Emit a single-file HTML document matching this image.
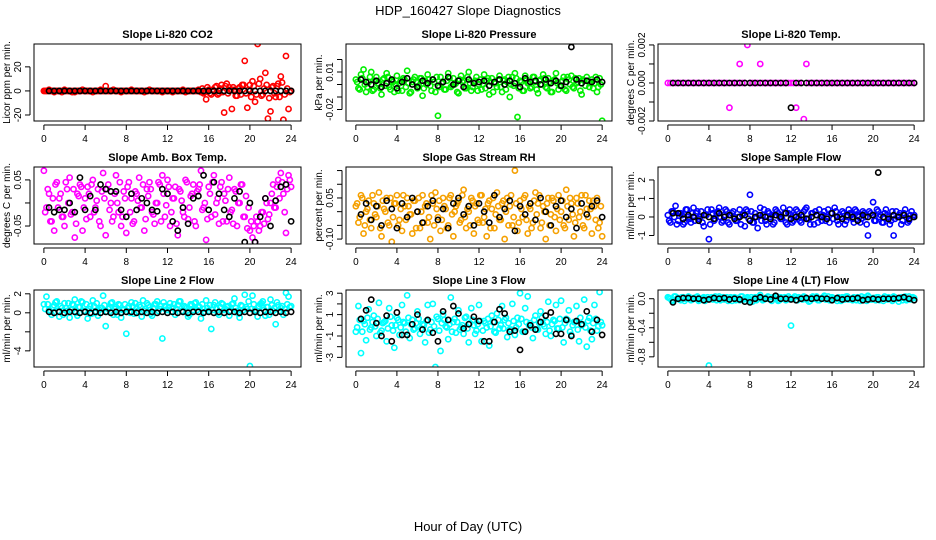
<!DOCTYPE html>
<html><head><meta charset="utf-8"><style>
html,body{margin:0;padding:0;background:#fff}
svg{display:block;font-family:"Liberation Sans",sans-serif}
</style></head><body>
<svg id="chart" width="936" height="540" viewBox="0 0 936 540">
<text x="468" y="15" text-anchor="middle" font-size="13">HDP_160427  Slope Diagnostics</text>
<text x="468" y="531" text-anchor="middle" font-size="13">Hour of Day (UTC)</text>
</svg>
<script>
const hoursFine=[0,0.25,0.5,0.75,1,1.25,1.5,1.75,2,2.25,2.5,2.75,3,3.25,3.5,3.75,4,4.25,4.5,4.75,5,5.25,5.5,5.75,6,6.25,6.5,6.75,7,7.25,7.5,7.75,8,8.25,8.5,8.75,9,9.25,9.5,9.75,10,10.25,10.5,10.75,11,11.25,11.5,11.75,12,12.25,12.5,12.75,13,13.25,13.5,13.75,14,14.25,14.5,14.75,15,15.25,15.5,15.75,16,16.25,16.5,16.75,17,17.25,17.5,17.75,18,18.25,18.5,18.75,19,19.25,19.5,19.75,20,20.25,20.5,20.75,21,21.25,21.5,21.75,22,22.25,22.5,22.75,23,23.25,23.5,23.75,24];
const hoursOff=[0.125,0.375,0.625,0.875,1.125,1.375,1.625,1.875,2.125,2.375,2.625,2.875,3.125,3.375,3.625,3.875,4.125,4.375,4.625,4.875,5.125,5.375,5.625,5.875,6.125,6.375,6.625,6.875,7.125,7.375,7.625,7.875,8.125,8.375,8.625,8.875,9.125,9.375,9.625,9.875,10.125,10.375,10.625,10.875,11.125,11.375,11.625,11.875,12.125,12.375,12.625,12.875,13.125,13.375,13.625,13.875,14.125,14.375,14.625,14.875,15.125,15.375,15.625,15.875,16.125,16.375,16.625,16.875,17.125,17.375,17.625,17.875,18.125,18.375,18.625,18.875,19.125,19.375,19.625,19.875,20.125,20.375,20.625,20.875,21.125,21.375,21.625,21.875,22.125,22.375,22.625,22.875,23.125,23.375,23.625,23.875];
const hoursHalf=[0.5,1,1.5,2,2.5,3,3.5,4,4.5,5,5.5,6,6.5,7,7.5,8,8.5,9,9.5,10,10.5,11,11.5,12,12.5,13,13.5,14,14.5,15,15.5,16,16.5,17,17.5,18,18.5,19,19.5,20,20.5,21,21.5,22,22.5,23,23.5,24];
const xTicks=[0,4,8,12,16,20,24];

const co2Col=[0,0,1,0,-1,0,0,-1,1,0,0,-1,-1,0,0,1,0,0,0,-1,0,0,1,0,4,0,0,1,0,0,-1,0,0,0,1,0,0,0,0,-1,0,1,0,0,0,0,-1,0,0,0,-1,0,0,0,1,-1,0,0,0,0,1,-1,-2,-7,1,-3,0,4,-2,5,-18,6,3,-15,1,-4,3,5,25,-14,5,8,-9,39,10,-3,15,-23,-17,4,-5,6,12,-24,29,-15,0,0];
const co2Col2=[0,0,0,0,0,0,0,0,0,0,0,0,0,0,0,0,0,0,0,0,0,0,0,0,0,0,0,0,0,0,0,0,0,0,0,0,0,0,0,0,0,0,0,0,0,0,0,0,0,0,0,0,0,0,0,0,0,0,0,0,0,2,-1,3,-2,1,3,-3,2,-1,4,-2,1,3,-4,2,-3,5,-2,1,-5,4,-3,6,-4,2,5,-6,3,-2,4,-5,7,-3,2,-1];
const co2Blk=[0,0,0,0,0,0,0,0,0,0,0,0,0,0,0,0,0,0,0,0,0,0,0,0,0,0,0,0,0,0,0,0,0,0,0,0,0,0,0,0,0,0,0,0,0,0,0,0];
const presCol=[0.004,-0.003,0.008,0.012,-0.006,0.002,0.010,-0.004,0.006,0.000,-0.008,0.005,0.009,-0.002,0.003,-0.006,0.007,0.001,-0.005,0.004,0.011,-0.007,0.002,0.006,-0.003,0.005,-0.009,0.003,0.008,-0.001,0.004,-0.006,-0.025,0.006,0.002,-0.004,0.009,-0.002,0.005,0.001,-0.007,0.007,0.003,-0.003,0.010,-0.005,0.002,0.006,0.000,-0.004,0.008,0.003,-0.008,0.005,0.001,-0.002,0.007,-0.006,0.004,0.002,-0.010,0.006,0.009,-0.026,0.003,-0.005,0.007,0.001,-0.003,0.006,0.002,-0.007,0.004,0.008,-0.002,0.005,-0.006,0.003,0.009,-0.004,0.002,0.006,-0.005,0.004,0.007,-0.003,0.001,0.005,-0.008,0.003,0.006,-0.002,0.004,0.001,-0.006,0.005,-0.029];
const presCol2=[0.002,-0.004,0.005,0.000,-0.002,0.006,-0.005,0.003,0.001,-0.003,0.004,-0.001,0.006,-0.004,0.002,0.000,-0.005,0.003,0.005,-0.002,0.001,-0.006,0.004,0.002,-0.001,0.005,-0.003,0.000,0.004,-0.005,0.002,0.006,-0.002,0.001,-0.004,0.003,0.005,-0.001,0.000,-0.006,0.004,0.002,-0.003,0.006,0.001,-0.002,0.003,-0.005,0.004,0.000,-0.003,0.005,0.002,-0.006,0.001,0.004,-0.002,0.003,-0.004,0.006,0.000,-0.001,0.005,-0.003,0.002,-0.005,0.004,0.001,-0.002,0.006,-0.004,0.003,0.000,0.005,-0.003,0.002,-0.006,0.004,0.001,-0.001,0.003,-0.004,0.006,0.000,-0.002,0.005,0.002,-0.005,0.004,-0.001,0.003,0.001,-0.003,0.006,-0.002,0.000];
const presBlk=[0.004,0.002,0.000,0.003,-0.002,0.001,0.004,-0.003,0.002,0.005,0.000,-0.002,0.003,0.001,0.004,-0.001,0.002,0.006,0.000,0.003,-0.002,0.004,0.001,0.002,0.003,-0.001,0.002,0.004,0.000,0.003,0.001,-0.002,0.005,0.002,0.003,0.000,0.004,0.001,0.003,-0.001,0.002,0.030,0.004,0.001,0.003,0.002,0.004,0.002];
const tempCol=[0,0,0,0,0,0,0,0,0,0,0,0,0,0,0,0,0,0,0,0,0,0,0,0,-0.0013,0,0,0,0.001,0,0,0.002,0,0,0,0,0.001,0,0,0,0,0,0,0,0,0,0,0,0,0,-0.0013,0,0,-0.0019,0.001,0,0,0,0,0,0,0,0,0,0,0,0,0,0,0,0,0,0,0,0,0,0,0,0,0,0,0,0,0,0,0,0,0,0,0,0,0,0,0,0,0,0];
const tempBlk=[0,0,0,0,0,0,0,0,0,0,0,0,0,0,0,0,0,0,0,0,0,0,0,-0.0013,0,0,0,0,0,0,0,0,0,0,0,0,0,0,0,0,0,0,0,0,0,0,0,0];
const ambCol=[0.07,-0.01,0.02,-0.04,-0.06,0.045,0.01,-0.03,-0.05,0.03,0.055,-0.02,-0.075,0.02,0.04,-0.06,0.01,0.035,-0.03,0.05,-0.01,0.03,-0.05,0.065,-0.07,0.04,0.00,-0.03,0.06,-0.02,-0.05,0.025,-0.065,0.045,0.01,-0.04,0.02,0.055,-0.01,-0.06,0.03,0.045,-0.02,-0.045,0.00,0.04,0.06,-0.03,0.05,-0.05,0.01,0.035,-0.07,0.025,-0.02,0.05,-0.035,0.015,0.04,-0.05,0.03,0.07,-0.01,-0.08,0.035,-0.03,0.06,0.00,-0.045,0.045,0.02,-0.04,0.055,-0.015,0.03,-0.05,0.00,0.04,-0.03,-0.055,-0.06,-0.075,-0.085,-0.04,-0.05,-0.02,0.01,-0.035,0.00,0.04,-0.01,0.05,0.065,0.02,-0.065,0.06,0.035];
const ambCol2=[-0.02,0.03,-0.04,0.01,0.04,-0.01,0.02,-0.03,0.045,0.00,-0.025,0.03,-0.045,0.015,0.035,-0.01,-0.035,0.02,0.04,-0.02,0.005,-0.04,0.025,0.01,0.03,-0.015,-0.04,0.02,0.00,0.045,-0.03,0.01,0.035,-0.02,-0.045,0.025,0.005,-0.01,0.04,-0.035,0.015,0.03,-0.025,0.00,0.045,-0.04,0.02,-0.005,0.035,-0.02,0.01,-0.045,0.03,0.005,-0.03,0.045,-0.01,0.02,-0.04,0.025,0.04,-0.015,0.00,-0.035,0.02,0.045,-0.025,0.01,0.035,-0.04,0.005,0.03,-0.02,-0.045,0.025,0.00,0.04,-0.03,0.015,-0.01,-0.04,-0.05,-0.03,-0.06,-0.02,-0.045,0.00,-0.025,0.02,-0.01,0.035,0.01,0.045,-0.02,0.03,0.05];
const ambBlk=[-0.01,-0.02,-0.015,-0.015,0.0,-0.02,0.055,-0.015,0.015,-0.015,0.04,0.03,0.025,0.025,-0.015,-0.03,0.02,-0.015,0.01,0.0,-0.015,-0.018,0.03,0.02,-0.04,-0.06,-0.01,-0.045,0.01,0.015,0.06,-0.015,0.045,0.02,-0.015,-0.03,0.01,0.025,-0.085,0.0,-0.085,-0.03,0.01,-0.05,0.005,0.035,0.04,-0.04];
const rhCol=[0.02,-0.04,0.06,-0.08,0.00,0.04,-0.06,0.03,-0.02,0.07,-0.09,0.01,0.05,-0.05,-0.11,0.03,0.06,-0.03,-0.07,0.02,0.05,-0.01,-0.08,0.04,0.00,-0.06,0.06,0.02,-0.04,-0.10,0.03,0.07,-0.02,-0.07,0.05,0.01,-0.05,0.06,-0.09,0.02,0.04,-0.03,0.08,-0.06,0.00,0.05,-0.08,0.03,-0.04,0.06,-0.02,-0.09,0.04,0.01,-0.06,0.07,-0.03,0.03,-0.10,0.05,0.02,-0.05,0.15,-0.07,0.04,-0.02,0.06,-0.08,0.01,-0.04,0.07,0.03,-0.06,0.02,-0.10,0.05,-0.01,0.04,-0.07,0.06,0.00,-0.05,0.08,-0.03,0.03,-0.09,0.05,-0.02,0.06,-0.06,0.01,0.04,-0.08,0.02,0.05,-0.04,-0.09];
const rhCol2=[0.03,-0.02,0.05,-0.05,0.01,-0.03,0.06,-0.01,0.02,-0.06,0.04,0.00,-0.04,0.05,-0.02,0.03,-0.05,0.01,0.06,-0.03,0.02,-0.01,0.04,-0.06,0.05,0.00,-0.04,0.03,-0.02,0.06,-0.05,0.01,0.04,-0.03,0.02,-0.06,0.05,-0.01,0.00,0.03,-0.04,0.06,-0.02,0.01,-0.05,0.04,0.02,-0.03,0.06,-0.04,0.01,0.03,-0.06,0.05,-0.01,0.02,-0.03,0.04,0.00,-0.05,0.06,-0.02,0.03,-0.04,0.01,0.05,-0.03,0.02,-0.06,0.04,-0.01,0.06,-0.04,0.00,0.03,-0.05,0.05,-0.02,0.01,-0.03,0.04,-0.06,0.02,0.05,-0.01,-0.04,0.03,0.00,-0.05,0.06,-0.02,0.01,0.04,-0.03,-0.06,0.02];
const rhBlk=[-0.01,0.03,-0.03,0.02,-0.05,0.04,0.01,-0.06,0.03,-0.02,0.05,0.00,-0.04,0.02,0.04,-0.03,0.01,-0.06,0.03,0.05,-0.01,0.02,-0.05,0.03,0.00,-0.04,0.06,-0.02,0.01,0.04,-0.07,0.02,-0.01,0.03,-0.03,0.05,0.00,-0.05,0.02,0.04,-0.02,0.01,-0.06,0.03,-0.01,0.02,0.04,-0.02];
const flowCol=[0.1,-0.3,0.3,0.6,-0.2,0.2,-0.4,0.4,0.0,-0.3,0.5,0.2,-0.1,0.3,-0.5,0.1,-1.2,0.4,-0.2,0.2,0.5,-0.3,0.1,0.3,-0.4,0.2,0.0,-0.2,0.4,0.1,-0.5,0.3,1.2,-0.3,0.2,-0.6,0.5,0.1,-0.2,0.3,0.0,-0.4,0.4,0.2,-0.1,0.5,-0.3,0.2,0.1,-0.2,0.4,0.0,-0.3,0.3,0.5,-0.1,0.2,-0.4,0.1,0.4,-0.2,0.3,0.0,-0.3,0.2,0.5,-0.2,0.1,0.3,-0.4,0.0,0.2,-0.1,0.4,0.1,-0.3,0.3,0.0,-1.0,0.2,0.8,-0.2,0.3,0.1,-0.3,0.4,0.0,-0.2,-1.0,0.3,0.1,-0.4,0.2,0.0,-0.2,0.3,0.1];
const flowCol2=[-0.2,0.3,0.0,-0.4,0.2,0.1,-0.3,0.4,-0.1,0.2,-0.2,0.3,0.0,-0.3,0.1,0.4,-0.4,0.2,-0.1,0.3,0.0,-0.2,0.4,-0.3,0.1,0.3,-0.2,0.0,-0.4,0.2,0.4,-0.1,0.3,-0.3,0.0,0.1,-0.2,0.4,-0.4,0.2,0.1,-0.3,0.3,0.0,-0.1,0.2,-0.4,0.4,-0.3,0.1,0.3,-0.2,0.0,0.4,-0.1,-0.4,0.2,0.3,-0.3,0.0,0.1,-0.2,0.4,0.2,-0.1,0.3,-0.4,0.0,0.2,-0.2,0.4,0.1,-0.3,0.3,0.0,-0.1,0.2,-0.4,0.3,0.1,-0.2,0.4,0.0,-0.3,0.2,0.1,-0.4,0.3,-0.1,0.0,0.2,-0.2,0.4,-0.3,0.1,0.0];
const flowBlk=[0.2,0.2,-0.1,0.1,0.0,-0.2,0.1,0.0,-0.1,0.2,0.0,0.1,-0.1,0.0,0.1,-0.2,0.0,0.1,0.0,-0.1,0.1,0.0,0.2,-0.1,0.0,0.1,-0.1,0.0,0.1,0.0,-0.1,0.2,0.0,-0.1,0.1,0.0,-0.2,0.1,0.0,0.1,2.4,0.0,-0.1,0.1,0.0,0.1,-0.1,0.0];
const l2Col=[0.9,1.7,0.3,-0.2,0.8,1.2,-0.4,0.5,1.0,0.2,-0.5,0.9,1.4,-0.3,0.6,1.1,0.2,-0.6,0.7,1.3,0.0,-0.3,0.5,1.8,-1.4,0.4,1.0,-0.2,0.6,0.9,-0.5,0.3,-2.2,0.7,1.1,-0.1,0.5,0.8,-0.4,0.2,1.0,0.6,-0.3,0.9,1.2,0.4,-2.7,0.7,0.3,1.0,0.5,-0.2,0.8,1.2,0.1,0.6,-0.4,0.9,0.3,1.1,0.7,-0.6,0.4,1.3,0.2,-1.7,0.8,0.5,-0.2,1.0,0.3,0.6,-0.3,0.9,1.5,0.2,-0.5,0.7,1.9,0.4,-5.6,1.8,0.3,-0.4,0.9,1.2,-0.3,0.6,1.4,0.2,-1.2,0.8,0.5,-0.2,2.1,1.7,0.7];
const l2Col2=[0.4,0.9,0.1,0.6,1.1,0.2,0.7,-0.2,0.5,1.0,0.3,0.8,0.0,0.6,1.2,0.2,0.9,0.4,-0.1,0.7,1.0,0.3,0.5,0.8,0.1,0.6,1.1,0.4,-0.2,0.8,0.3,0.9,0.5,0.0,0.7,1.0,0.2,0.6,1.3,0.4,0.8,-0.1,0.5,0.9,0.2,0.7,1.1,0.3,0.6,0.1,0.9,0.4,1.2,0.2,0.7,0.5,-0.2,0.8,1.0,0.3,0.6,0.9,0.1,0.5,0.8,0.3,1.1,0.0,0.6,0.9,0.4,0.7,0.2,1.0,0.5,-0.1,0.8,0.3,0.6,1.2,0.4,0.9,0.1,0.7,1.0,0.3,0.6,-0.2,0.8,0.5,1.1,0.2,0.7,0.4,0.9,0.6];
const l2Blk=[0.1,0.0,0.1,0.0,0.1,0.1,0.0,0.1,0.0,0.1,0.0,0.1,0.0,0.1,0.0,0.1,0.1,0.0,0.1,0.0,0.1,0.0,0.1,0.0,0.1,0.0,0.1,0.0,0.1,0.1,0.0,0.1,0.0,0.1,0.0,0.1,0.1,0.0,0.1,0.0,0.1,0.0,0.1,0.1,0.0,0.1,0.0,0.1];
const l3Col=[-0.6,1.8,-2.6,0.4,-1.4,1.5,-0.2,0.9,-1.0,2.1,-0.5,0.3,-1.5,1.6,0.0,-2.1,0.7,-0.9,1.9,0.2,2.8,-1.2,0.5,-0.3,1.3,-0.8,0.1,-1.6,1.9,-0.4,2.0,-3.9,0.6,-2.4,1.0,-0.1,-1.3,2.6,0.3,-0.7,1.4,-0.2,-0.8,0.8,-1.6,1.6,0.0,-0.5,1.9,-1.5,0.4,-0.2,-1.9,0.9,-0.6,1.1,-0.3,1.8,0.5,-1.1,-0.4,2.0,-0.9,0.7,3.0,-0.6,1.6,2.7,0.2,-1.2,0.9,-0.4,1.3,0.1,-0.8,2.2,-1.0,0.5,1.9,-0.3,2.3,-1.6,0.6,1.4,-0.9,0.3,1.8,-1.5,0.0,2.4,-2.0,0.7,-1.3,1.9,-0.5,3.1,0.0];
const l3Col2=[-0.2,0.5,-0.6,0.1,0.7,-0.4,0.3,-0.1,0.6,-0.7,0.2,0.4,-0.3,0.8,-0.5,0.0,0.5,-0.2,0.3,-0.6,0.7,0.1,-0.4,0.2,0.6,-0.3,0.0,0.4,-0.7,0.3,-0.1,0.8,-0.5,0.2,0.5,-0.2,0.1,-0.6,0.6,0.3,-0.4,0.0,0.7,-0.3,0.2,0.5,-0.8,0.1,0.4,-0.5,0.2,0.6,-0.1,0.3,-0.7,0.5,0.0,-0.3,0.7,0.2,-0.4,0.4,-0.2,0.1,0.6,-0.6,0.3,0.0,-0.2,0.5,-0.4,0.2,0.7,-0.1,0.3,-0.5,0.1,0.4,-0.3,0.6,-0.2,0.2,0.5,-0.6,0.0,0.3,-0.4,0.7,0.1,-0.2,0.4,-0.5,0.2,0.6,-0.1,0.3];
const l3Blk=[0.6,1.4,2.4,0.2,-1.0,0.9,-1.5,1.2,-0.9,-0.9,0.1,1.0,-0.4,0.5,-0.7,-1.5,1.3,0.5,1.8,1.1,-0.3,0.1,0.8,0.4,-1.5,-1.5,0.3,1.5,1.1,-0.6,-0.5,-2.3,-0.6,0.0,-0.4,0.3,0.9,1.2,-0.8,-0.8,0.5,-1.0,0.4,0.1,1.3,-0.6,0.5,-0.9];
const l4Col=[0.02,0.0,-0.03,0.03,0.01,-0.02,0.02,0.0,0.03,-0.02,0.01,0.02,-0.03,0.0,0.02,-0.01,-0.92,0.02,0.0,-0.02,0.03,0.01,-0.01,0.02,0.0,-0.03,0.02,0.01,-0.02,0.03,0.0,0.02,-0.01,-0.04,0.02,0.0,0.05,-0.02,0.01,0.03,-0.01,0.02,0.0,-0.03,0.02,0.01,-0.02,0.03,-0.37,0.01,-0.02,0.02,0.0,0.03,-0.01,-0.04,0.02,0.0,0.03,-0.02,0.01,0.04,0.0,-0.02,0.02,0.0,-0.03,0.01,0.02,-0.01,0.03,0.0,-0.02,0.01,0.02,-0.03,0.0,0.02,0.04,-0.01,0.01,-0.02,0.02,0.0,-0.03,0.01,0.02,-0.01,0.03,0.0,-0.04,0.02,0.01,-0.02,0.03,0.0,0.01];
const l4Col2=[0.01,-0.02,0.03,0.0,-0.01,0.02,-0.03,0.01,0.02,-0.01,0.0,0.03,-0.02,0.01,-0.03,0.02,0.0,-0.01,0.03,0.01,-0.02,0.02,0.0,-0.03,0.02,0.01,-0.02,0.0,0.03,-0.01,0.01,-0.03,0.02,0.0,-0.02,0.03,0.01,-0.01,0.0,0.02,-0.03,0.01,0.03,-0.02,0.0,0.02,-0.01,0.01,0.0,0.03,-0.02,0.01,-0.01,0.02,0.0,-0.03,0.03,0.01,-0.02,0.0,0.02,-0.01,0.03,-0.02,0.01,0.0,0.02,-0.03,0.01,0.03,-0.01,0.0,0.02,-0.02,0.01,0.03,0.0,-0.03,0.02,-0.01,0.01,0.02,-0.02,0.0,0.03,-0.01,0.01,-0.03,0.02,0.0,0.01,-0.02,0.03,0.0,-0.01,0.02];
const l4Blk=[-0.05,0.0,0.01,0.01,0.0,0.0,-0.02,-0.01,0.01,0.0,0.01,-0.01,0.0,-0.01,-0.04,-0.05,0.0,0.02,0.0,-0.01,0.04,0.0,0.0,-0.01,-0.02,0.0,0.01,0.0,0.01,0.0,0.0,-0.02,0.01,-0.01,0.0,0.0,0.01,-0.02,-0.01,0.0,-0.01,0.0,0.0,0.0,0.01,0.02,0.0,-0.02];

const NS='http://www.w3.org/2000/svg';
const svg=document.getElementById('chart');
function mk(tag,attrs,parent){const e=document.createElementNS(NS,tag);for(const k in attrs)e.setAttribute(k,attrs[k]);(parent||svg).appendChild(e);return e;}

const cols=[{l:34,r:301},{l:346,r:612},{l:658,r:924}];
const rows=[{t:44,b:121},{t:167,b:244},{t:290,b:367}];
const panels=[
 {title:'Slope Li-820 CO2',yl:'Licor ppm per min.',ymin:-25,ymax:39,ticks:[-20,0,20],labels:['-20','0','20'],col:co2Col,col2:co2Col2,blk:co2Blk,color:'#ff0000'},
 {title:'Slope Li-820 Pressure',yl:'kPa per min.',ymin:-0.0292,ymax:0.0324,ticks:[-0.02,-0.01,0,0.01,0.02],labels:['-0.02','','','0.01',''],col:presCol,col2:presCol2,blk:presBlk,color:'#00ee00'},
 {title:'Slope Li-820 Temp.',yl:'degrees C per min.',ymin:-0.002,ymax:0.00205,ticks:[-0.002,-0.001,0,0.001,0.002],labels:['-0.002','','0.000','','0.002'],col:tempCol,col2:[],blk:tempBlk,color:'#ff00ff'},
 {title:'Slope Amb. Box Temp.',yl:'degrees C per min.',ymin:-0.089,ymax:0.078,ticks:[-0.05,0,0.05],labels:['-0.05','','0.05'],col:ambCol,col2:ambCol2,blk:ambBlk,color:'#ff00ff'},
 {title:'Slope Gas Stream RH',yl:'percent per min.',ymin:-0.118,ymax:0.163,ticks:[-0.1,-0.05,0,0.05,0.1,0.15],labels:['-0.10','','','0.05','',''],col:rhCol,col2:rhCol2,blk:rhBlk,color:'#f5a000'},
 {title:'Slope Sample Flow',yl:'ml/min per min.',ymin:-1.46,ymax:2.7,ticks:[-1,0,1,2],labels:['-1','0','1','2'],col:flowCol,col2:flowCol2,blk:flowBlk,color:'#0000ff'},
 {title:'Slope Line 2 Flow',yl:'ml/min per min.',ymin:-5.7,ymax:2.4,ticks:[-4,-2,0,2],labels:['-4','','0','2'],col:l2Col,col2:l2Col2,blk:l2Blk,color:'#00ffff'},
 {title:'Slope Line 3 Flow',yl:'ml/min per min.',ymin:-3.9,ymax:3.3,ticks:[-3,-2,-1,0,1,2,3],labels:['-3','','-1','','1','','3'],col:l3Col,col2:l3Col2,blk:l3Blk,color:'#00ffff'},
 {title:'Slope Line 4 (LT) Flow',yl:'ml/min per min.',ymin:-0.94,ymax:0.12,ticks:[-0.8,-0.6,-0.4,-0.2,0],labels:['-0.8','','-0.4','','0.0'],col:l4Col,col2:l4Col2,blk:l4Blk,color:'#00ffff'}
];

panels.forEach((p,i)=>{
  const c=cols[i%3],r=rows[Math.floor(i/3)];
  const g=mk('g',{});
  
  
  const xs=v=>c.l+(v+0.96)/25.92*(c.r-c.l);
  const ys=v=>r.b-(v-p.ymin)/(p.ymax-p.ymin)*(r.b-r.t);
  const cx=(c.l+c.r)/2;
  const t=mk('text',{x:cx,y:r.t-6,'text-anchor':'middle','font-size':11,'font-weight':'bold'},g);
  t.textContent=p.title;
  
  
  const cl='clip'+i;
  const cp=mk('clipPath',{id:cl},g);
  mk('rect',{x:c.l,y:r.t,width:c.r-c.l,height:r.b-r.t},cp);
  const pts=mk('g',{'clip-path':'url(#'+cl+')'},g);
  p.col.forEach((v,k)=>{
    const e=mk('circle',{cx:xs(hoursFine[k]),cy:ys(v),r:2.6,fill:'none',stroke:p.color,'stroke-width':1.6},pts);
    
    
  });
  p.col2.forEach((v,k)=>{
    const e=mk('circle',{cx:xs(hoursOff[k]),cy:ys(v),r:2.6,fill:'none',stroke:p.color,'stroke-width':1.6},pts);
    
    
  });
  p.blk.forEach((v,k)=>{
    const e=mk('circle',{cx:xs(hoursHalf[k]),cy:ys(v),r:2.6,fill:'none',stroke:'#000','stroke-width':1.6},pts);
    
    
  });
  const box=mk('rect',{x:c.l,y:r.t,width:c.r-c.l,height:r.b-r.t,fill:'none',stroke:'#000','stroke-width':1},g);
  
  
  const ay=r.b+4;
  mk('line',{x1:xs(0),x2:xs(24),y1:ay,y2:ay,stroke:'#000'},g);
  xTicks.forEach(v=>{
    mk('line',{x1:xs(v),x2:xs(v),y1:ay,y2:ay+5,stroke:'#000'},g);
    const tl=mk('text',{x:xs(v),y:r.b+21,'text-anchor':'middle','font-size':10},g);
    tl.textContent=v;
    
    
  });
  const ax=c.l-4;
  mk('line',{x1:ax,x2:ax,y1:ys(p.ticks[0]),y2:ys(p.ticks[p.ticks.length-1]),stroke:'#000'},g);
  p.ticks.forEach((v,k)=>{
    mk('line',{x1:ax,x2:ax-5,y1:ys(v),y2:ys(v),stroke:'#000'},g);
    if(p.labels[k]){
      const tl=mk('text',{x:0,y:0,'text-anchor':'middle','font-size':10,transform:'translate('+(c.l-13)+','+ys(v)+') rotate(-90)'},g);
      tl.textContent=p.labels[k];
      
      
    }
  });
  const yl=mk('text',{x:0,y:0,'text-anchor':'middle','font-size':10,transform:'translate('+(c.l-24)+','+((r.t+r.b)/2)+') rotate(-90)'},g);
  yl.textContent=p.yl;
  
  
});
</script>
</body></html>
